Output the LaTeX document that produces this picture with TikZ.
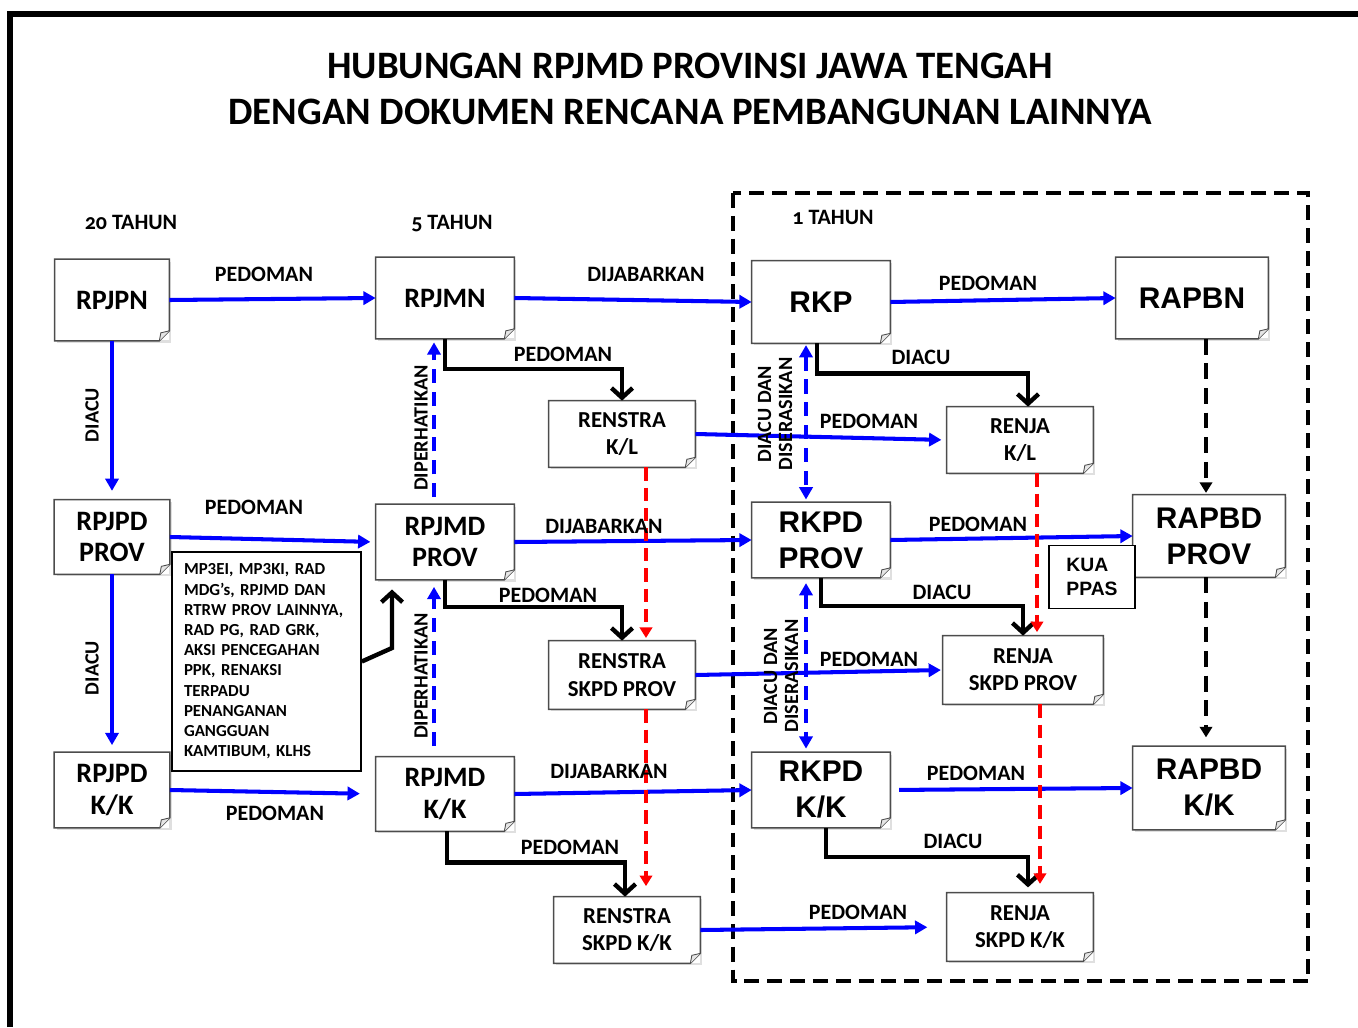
\documentclass[tikz,border=0pt]{standalone}
\usepackage{fontspec}
\setmainfont{Carlito}
\newfontfamily\arialfont{Liberation Sans}
\usetikzlibrary{positioning,arrows.meta,shadows}

\tikzset{
  doc/.style={fill=white, inner sep=0pt, align=center,
    font=\bfseries\fontsize{16}{18}\selectfont,
    drop shadow={opacity=0.25, shadow xshift=1.2pt, shadow yshift=-1.2pt}},
  docbig/.style={doc, font=\arialfont\bfseries\fontsize{17}{20.5}\selectfont},
  docsmall/.style={doc, font=\bfseries\fontsize{13}{15.5}\selectfont},
  docline/.style={draw=black!70, line width=0.8pt},
  lbl/.style={font=\bfseries\fontsize{12.5}{14}\selectfont, inner sep=0pt},
  rotlbl/.style={lbl, rotate=90, align=center, font=\bfseries\fontsize{11.5}{12}\selectfont},
  coltitle/.style={inner sep=0pt, font=\bfseries\fontsize{12.5}{14}\selectfont\addfontfeatures{Numbers=OldStyle}},
  blu/.style={draw=blue, line width=2.3pt, -{Triangle[length=7pt,width=7.5pt]}},
  bludash/.style={blu, dash pattern=on 8pt off 5pt},
  blk/.style={draw=black, line width=2.5pt, -{Straight Barb[length=5.5pt,width=12pt]}},
  blkdash/.style={draw=black, line width=2.2pt, dash pattern=on 9pt off 5pt, -{Triangle[length=6pt,width=7pt]}},
  reddash/.style={draw=red, line width=2.2pt, dash pattern=on 7.5pt off 4pt, -{Triangle[length=6pt,width=7pt]}}
}

\begin{document}
\begin{tikzpicture}[x=0.02cm, y=-0.02cm]
	\useasboundingbox (0,0) rectangle (1358,1027);
	% page frame and 1 year block
	\draw[line width=3.4pt] (10,1027) -- (10,14) -- (1358,14);
	\draw[line width=2.3pt, dash pattern=on 8.5pt off 4.5pt] (733,193) rectangle (1308,981);

	\node[inner sep=0pt, align=center, font=\bfseries\fontsize{22.1}{26}\selectfont] (title1) at (690,66) {HUBUNGAN RPJMD PROVINSI JAWA TENGAH};
	\node[inner sep=0pt, align=center, font=\bfseries\fontsize{22.1}{26}\selectfont] (title2) at (690,112) {DENGAN DOKUMEN RENCANA PEMBANGUNAN LAINNYA};

	\node[coltitle] (t20) at (131,222) {20 TAHUN};
	\node[coltitle] (t5) at (452,224) {5 TAHUN};
	\node[coltitle] (t1) at (833,217) {1 TAHUN};

	% documents
	\node[doc, minimum width=2.28cm, minimum height=1.62cm] (rpjpn) at (112,300) {RPJPN};
	\node[doc, minimum width=2.76cm, minimum height=1.62cm] (rpjmn) at (445,298) {RPJMN};
	\node[docbig, minimum width=2.76cm, minimum height=1.64cm] (rkp) at (821,302) {RKP};
	\node[docbig, minimum width=3.04cm, minimum height=1.62cm] (rapbn) at (1192,298) {RAPBN};
	\node[docsmall, minimum width=2.92cm, minimum height=1.32cm] (renstrakl) at (622,434) {RENSTRA\\K/L};
	\node[docsmall, minimum width=2.92cm, minimum height=1.32cm] (renjakl) at (1020,440) {RENJA\\K/L};

	\node[doc, minimum width=2.3cm, minimum height=1.48cm] (rpjpdp) at (112,537) {RPJPD\\PROV};
	\node[doc, minimum width=2.76cm, minimum height=1.5cm] (rpjmdp) at (445,542) {RPJMD\\PROV};
	\node[docbig, minimum width=2.76cm, minimum height=1.5cm] (rkpdp) at (821,540) {RKPD\\PROV};
	\node[docbig, minimum width=3.04cm, minimum height=1.64cm] (rapbdp) at (1209,536) {RAPBD\\PROV};
	\node[docsmall, minimum width=2.92cm, minimum height=1.36cm] (renstraskpdp) at (622,675) {RENSTRA\\SKPD PROV};
	\node[docsmall, minimum width=3.2cm, minimum height=1.36cm] (renjaskpdp) at (1023,670) {RENJA\\SKPD PROV};

	\node[doc, minimum width=2.3cm, minimum height=1.5cm] (rpjpdk) at (112,790) {RPJPD\\K/K};
	\node[doc, minimum width=2.76cm, minimum height=1.48cm] (rpjmdk) at (445,794) {RPJMD\\K/K};
	\node[docbig, minimum width=2.76cm, minimum height=1.5cm] (rkpdk) at (821,790) {RKPD\\K/K};
	\node[docbig, minimum width=3.04cm, minimum height=1.66cm] (rapbdk) at (1209,788) {RAPBD\\K/K};
	\node[docsmall, minimum width=2.92cm, minimum height=1.32cm] (renstraskpdk) at (627,930) {RENSTRA\\SKPD K/K};
	\node[docsmall, minimum width=2.92cm, minimum height=1.36cm] (renjaskpdk) at (1020,927) {RENJA\\SKPD K/K};

	\foreach \n in {rpjpn,rpjmn,rkp,rapbn,renstrakl,renjakl,rpjpdp,rpjmdp,rkpdp,rapbdp,renstraskpdp,renjaskpdp,rpjpdk,rpjmdk,rkpdk,rapbdk,renstraskpdk,renjaskpdk}{
		\draw[docline] (\n.north west) -- (\n.north east) -- ([yshift=.2cm]\n.south east) -- ([xshift=-.2cm]\n.south east) -- (\n.south west) -- cycle;
		\draw[docline, fill=black!10, line width=0.5pt] ([xshift=-.2cm]\n.south east) -- ([xshift=-.17cm,yshift=.16cm]\n.south east) -- ([yshift=.2cm]\n.south east);
	}

	\node[draw, line width=1pt, fill=white, minimum width=3.78cm, minimum height=4.38cm, text width=3.3cm, align=left, inner sep=0pt,
		font=\bfseries\fontsize{9.6}{11.5}\selectfont] (mp) at (266.5,661.5) {MP3EI, MP3KI, RAD\\MDG’s, RPJMD DAN\\RTRW PROV LAINNYA,\\RAD PG, RAD GRK,\\AKSI PENCEGAHAN\\PPK, RENAKSI\\TERPADU\\PENANGANAN\\GANGGUAN\\KAMTIBUM, KLHS};
	\node[draw, line width=1pt, fill=white, minimum width=1.72cm, minimum height=1.26cm, inner sep=0pt, align=left,
		font=\arialfont\bfseries\fontsize{11}{13.5}\selectfont] (kua) at (1092,577) {KUA\\PPAS};

	% blue: pedoman / dijabarkan / diacu
	\draw[blu] (rpjpn.east) -- (rpjmn.west);
	\draw[blu] (rpjmn.east) -- (rkp.west);
	\draw[blu] (rkp.east) -- (rapbn.west);
	\draw[blu, shorten >=5pt] (rpjpn.south) -- (rpjpdp.north);
	\draw[blu, shorten >=3pt] (rpjpdp.east) -- (rpjmdp.west);
	\draw[blu] (rpjmdp.east) -- (rkpdp.west);
	\draw[blu] (rkpdp.east) -- (rapbdp.west);
	\draw[blu, shorten >=4pt] (rpjpdp.south) -- (rpjpdk.north);
	\draw[blu, shorten >=9pt] (rpjpdk.east) -- (rpjmdk.west);
	\draw[blu] (rpjmdk.east) -- (rkpdk.west);
	\draw[blu, shorten <=5pt] (rkpdk.east) -- (rapbdk.west);
	\draw[blu, shorten >=3pt] (renstrakl.east) -- (renjakl.west);
	\draw[blu, shorten >=1pt] (renstraskpdp.east) -- (renjaskpdp.west);
	\draw[blu, shorten >=11pt] (renstraskpdk.east) -- (renjaskpdk.west);

	% blue dashed: diperhatikan, diacu dan diserasikan
	\draw[bludash, shorten <=4pt, shorten >=2pt] ([xshift=-.22cm]rpjmdp.north) -- ([xshift=-.22cm]rpjmdp.north |- rpjmn.south);
	\draw[bludash, shorten <=6pt, shorten >=4pt] ([xshift=-.22cm]rpjmdk.north) -- ([xshift=-.22cm]rpjmdk.north |- rpjmdp.south);
	\draw[bludash, {Triangle[length=7pt,width=7.5pt]}-{Triangle[length=7pt,width=7.5pt]}, shorten <=1pt, shorten >=1.5pt] ([xshift=-.3cm]rkp.south) -- ([xshift=-.3cm]rkp.south |- rkpdp.north);
	\draw[bludash, {Triangle[length=7pt,width=7.5pt]}-{Triangle[length=7pt,width=7.5pt]}, shorten <=3pt, shorten >=2pt] ([xshift=-.3cm]rkpdp.south) -- ([xshift=-.3cm]rkpdp.south |- rkpdk.north);

	% black: pedoman / diacu
	\draw[blk] (rpjmn.south) -- ++(0,30) -| (renstrakl.north);
	\draw[blk] (rpjmdp.south) -- ++(0,27) -| (renstraskpdp.north);
	\draw[blk] ([xshift=.04cm]rpjmdk.south) -- ++(0,31) -| ([xshift=-.04cm]renstraskpdk.north);
	\draw[blk] ([xshift=-.08cm]rkp.south) -- ++(0,30) -| ([xshift=.16cm]renjakl.north);
	\draw[blk] (rkpdp.south) -- ++(0,28) -| (renjaskpdp.north);
	\draw[blk, shorten >=3pt] ([xshift=.1cm]rkpdk.south) -- ++(0,29) -| ([xshift=.16cm]renjaskpdk.north);
	\coordinate (kink) at (392,648);
	\draw[blk, shorten >=5.5pt] (mp.east) -- (kink) -- (kink |- rpjmdp.south);

	% black dashed: apbn to apbd
	\draw[blkdash, shorten >=1pt] ([xshift=.28cm]rapbn.south) -- ([xshift=.28cm]rapbn.south |- rapbdp.north);
	\draw[blkdash, shorten >=5pt] ([xshift=-.06cm]rapbdp.south) -- ([xshift=-.06cm]rapbdp.south |- rapbdk.north);

	% red dashed
	\draw[reddash, shorten >=1.5pt] ([xshift=.48cm]renstrakl.south) -- ([xshift=.48cm]renstrakl.south |- renstraskpdp.north);
	\draw[reddash, shorten >=6pt] ([xshift=.48cm]renstraskpdp.south) -- ([xshift=.48cm]renstraskpdp.south |- renstraskpdk.north);
	\draw[reddash, shorten >=2pt] ([xshift=.34cm]renjakl.south) -- ([xshift=.34cm]renjakl.south |- renjaskpdp.north);
	\draw[reddash, shorten >=5pt] ([xshift=.34cm]renjaskpdp.south) -- ([xshift=.34cm]renjaskpdp.south |- renjaskpdk.north);

	% labels
	\node[lbl] (l1) at (264,274) {PEDOMAN};
	\node[lbl] (l2) at (646,274) {DIJABARKAN};
	\node[lbl] (l3) at (988,283) {PEDOMAN};
	\node[lbl] (l4) at (563,354) {PEDOMAN};
	\node[lbl] (l5) at (921,357) {DIACU};
	\node[lbl] (l6) at (869,421) {PEDOMAN};
	\node[lbl] (l7) at (254,507) {PEDOMAN};
	\node[lbl] (l8) at (604,526) {DIJABARKAN};
	\node[lbl] (l9) at (978,524) {PEDOMAN};
	\node[lbl] (l10) at (548,595) {PEDOMAN};
	\node[lbl] (l11) at (942,592) {DIACU};
	\node[lbl] (l12) at (869,659) {PEDOMAN};
	\node[lbl] (l13) at (609,771) {DIJABARKAN};
	\node[lbl] (l14) at (976,773) {PEDOMAN};
	\node[lbl] (l15) at (275,813) {PEDOMAN};
	\node[lbl] (l16) at (570,847) {PEDOMAN};
	\node[lbl] (l17) at (953,841) {DIACU};
	\node[lbl] (l18) at (858,912) {PEDOMAN};
	\node[rotlbl] (r1) at (92,415) {DIACU};
	\node[rotlbl] (r2) at (92,668) {DIACU};
	\node[rotlbl] (r3) at (421,428) {DIPERHATIKAN};
	\node[rotlbl] (r4) at (421,676) {DIPERHATIKAN};
	\node[rotlbl] (r5) at (775,414) {DIACU DAN\\DISERASIKAN};
	\node[rotlbl] (r6) at (781,676) {DIACU DAN\\DISERASIKAN};
\end{tikzpicture}
\end{document}
